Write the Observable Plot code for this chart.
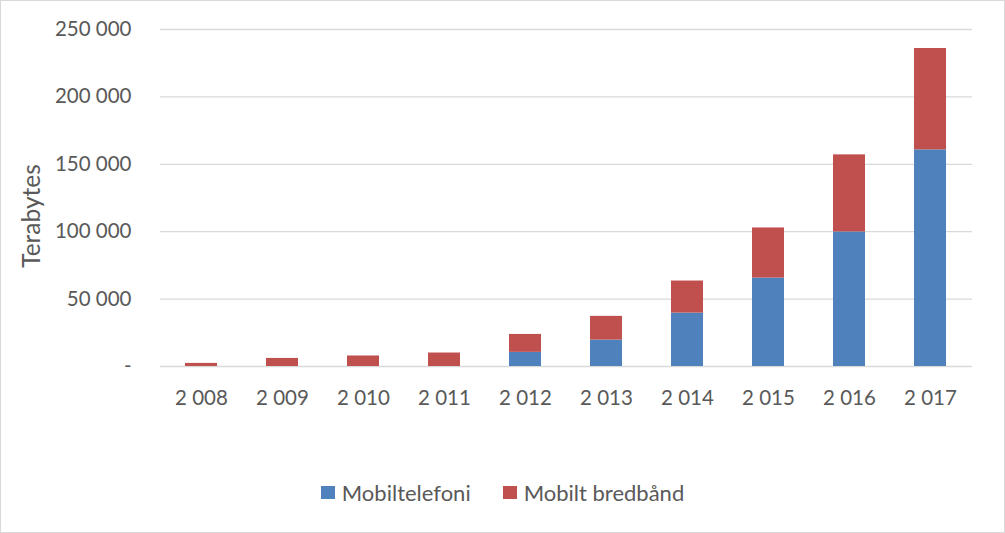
<!DOCTYPE html>
<html>
<head>
<meta charset="utf-8">
<script src="https://cdn.jsdelivr.net/npm/d3@7"></script>
<script src="https://cdn.jsdelivr.net/npm/@observablehq/plot@0.6"></script>
<style>
  html, body { margin: 0; padding: 0; background: #fff; }
  #wrap { position: relative; width: 1005px; height: 533px; overflow: hidden; font-family: Lato, "Open Sans", sans-serif; }
  #border { position: absolute; left: 0; top: 0; width: 1003px; height: 531px; border: 1px solid #d9d9d9; pointer-events: none; }
  #legend { position: absolute; left: 0; top: 479px; width: 1005px; display: flex; justify-content: center; align-items: center; font-size: 22px; color: #595959; }
  .item { display: flex; align-items: center; margin: 0 16px; }
  .sw { width: 14px; height: 13px; margin-right: 7px; }
</style>
</head>
<body>
<div id="wrap">
  <div id="chart"></div>
  <div id="legend"></div>
  <div id="border"></div>
</div>
<script>
const years = [2008, 2009, 2010, 2011, 2012, 2013, 2014, 2015, 2016, 2017];
const seriesNames = ["Mobiltelefoni", "Mobilt bredbånd"];
const mobiltelefoni = [0, 0, 0, 0, 10500, 19600, 39600, 65600, 99800, 160700];
const mobiltBredband = [2300, 6000, 7800, 10000, 13300, 17600, 23800, 37200, 57200, 75200];
const yTicks = [0, 50000, 100000, 150000, 200000, 250000];
const yTitle = "Terabytes";
const colors = ["#4f81bd", "#c0504d"];

const data = [];
years.forEach((yr, i) => {
  data.push({year: yr, series: seriesNames[0], value: mobiltelefoni[i]});
  data.push({year: yr, series: seriesNames[1], value: mobiltBredband[i]});
});

const spaced = v => d3.format(",")(v).replace(/,/g, " ");
const yFmt = v => v === 0 ? "-" : spaced(v);

const chart = Plot.plot({
  width: 1005,
  height: 450,
  marginLeft: 160,
  marginRight: 33,
  marginTop: 29,
  marginBottom: 84,
  style: {fontFamily: "Lato, 'Open Sans', sans-serif", fontSize: "20.5px", color: "#595959", background: "transparent"},
  x: {type: "band", domain: years, paddingInner: 0.6, paddingOuter: 0.3},
  y: {domain: [0, 250000]},
  color: {domain: seriesNames, range: colors},
  marks: [
    Plot.gridY(yTicks, {stroke: "#d9d9d9", strokeOpacity: 1, strokeWidth: 1.3}),
    Plot.barY(data, {x: "year", y: "value", fill: "series"}),
    Plot.axisY({ticks: yTicks, tickSize: 0, tickPadding: 29, tickFormat: yFmt, fill: "#595959", label: null}),
    Plot.axisX({tickSize: 0, tickPadding: 24, tickFormat: spaced, fill: "#595959", label: null}),
    Plot.text([yTitle], {frameAnchor: "left", textAnchor: "middle", dx: -128, dy: 18, rotate: -90, fontSize: 24.5, fill: "#595959"})
  ]
});
document.getElementById("chart").appendChild(chart);

const legend = document.getElementById("legend");
seriesNames.forEach((name, i) => {
  const item = document.createElement("div");
  item.className = "item";
  const sw = document.createElement("div");
  sw.className = "sw";
  sw.style.background = colors[i];
  const t = document.createElement("span");
  t.textContent = name;
  item.appendChild(sw);
  item.appendChild(t);
  legend.appendChild(item);
});
</script>
</body>
</html>
